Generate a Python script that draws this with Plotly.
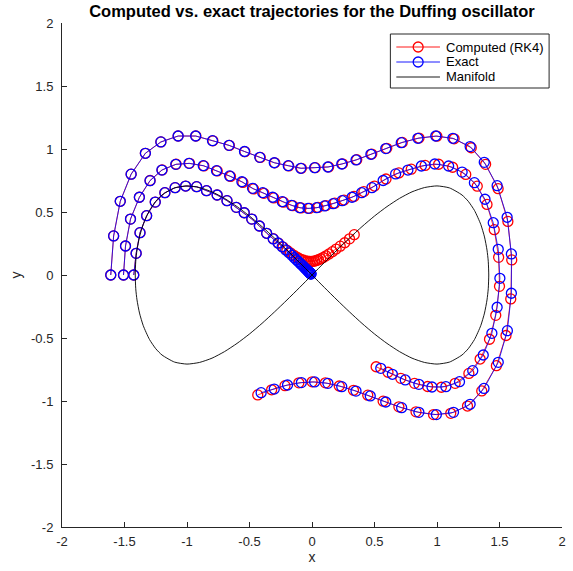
import plotly.graph_objects as go

# ---------------- data ----------------
# Exact trajectories (blue)
exact1_x = [-1.61, -1.587, -1.534, -1.447, -1.333, -1.209, -1.071, -0.931, -0.796, -0.664, -0.54, -0.418, -0.302, -0.19, -0.09, 0.021, 0.127, 0.238, 0.352, 0.471, 0.59, 0.714, 0.847, 0.99, 1.127, 1.265, 1.378, 1.481, 1.561, 1.595, 1.595, 1.563, 1.49, 1.376, 1.265, 1.132, 0.995, 0.855, 0.717, 0.59, 0.466, 0.352, 0.238, 0.127, 0.021, -0.085, -0.196, -0.302, -0.407]
exact1_y = [0.0, 0.31, 0.585, 0.8, 0.966, 1.056, 1.103, 1.103, 1.066, 1.029, 0.98, 0.934, 0.891, 0.868, 0.847, 0.852, 0.857, 0.881, 0.913, 0.958, 1.003, 1.05, 1.085, 1.103, 1.085, 1.019, 0.894, 0.709, 0.458, 0.167, -0.145, -0.442, -0.693, -0.9, -1.026, -1.09, -1.108, -1.09, -1.053, -1.008, -0.96, -0.921, -0.886, -0.86, -0.849, -0.854, -0.873, -0.905, -0.934]

exact2_x = [-1.508, -1.492, -1.452, -1.381, -1.296, -1.201, -1.09, -0.984, -0.87, -0.764, -0.659, -0.561, -0.476, -0.394, -0.315, -0.238, -0.164, -0.098, -0.032, 0.037, 0.1, 0.169, 0.241, 0.32, 0.397, 0.479, 0.569, 0.669, 0.767, 0.875, 0.982, 1.093, 1.201, 1.299, 1.384, 1.45, 1.49, 1.503, 1.481, 1.439, 1.37, 1.286, 1.18, 1.071, 0.96, 0.855, 0.746, 0.643, 0.55]
exact2_y = [0.0, 0.23, 0.444, 0.617, 0.749, 0.833, 0.878, 0.886, 0.868, 0.828, 0.786, 0.74, 0.688, 0.653, 0.617, 0.582, 0.553, 0.534, 0.529, 0.534, 0.548, 0.566, 0.59, 0.617, 0.653, 0.693, 0.75, 0.802, 0.833, 0.865, 0.881, 0.865, 0.817, 0.733, 0.601, 0.415, 0.204, -0.026, -0.256, -0.463, -0.635, -0.759, -0.847, -0.886, -0.889, -0.868, -0.833, -0.788, -0.741]

exact3_x = [-1.426, -1.407, -1.376, -1.323, -1.254, -1.177, -1.095, -1.011, -0.923, -0.844, -0.759, -0.68, -0.606, -0.542, -0.482, -0.421, -0.363, -0.31, -0.272, -0.239, -0.21, -0.184, -0.162, -0.142, -0.125, -0.11, -0.096, -0.085, -0.074, -0.065, -0.057, -0.05, -0.044, -0.039, -0.034, -0.03, -0.026, -0.023, -0.02, -0.018, -0.016, -0.014, -0.012, -0.01, -0.009, -0.008]
exact3_y = [0.0, 0.172, 0.336, 0.471, 0.579, 0.653, 0.693, 0.706, 0.701, 0.669, 0.635, 0.59, 0.537, 0.494, 0.444, 0.389, 0.331, 0.286, 0.254, 0.225, 0.199, 0.176, 0.156, 0.137, 0.121, 0.107, 0.094, 0.083, 0.073, 0.064, 0.056, 0.049, 0.043, 0.038, 0.033, 0.029, 0.026, 0.023, 0.02, 0.018, 0.016, 0.014, 0.012, 0.01, 0.009, 0.008]

# Computed trajectories (red, RK4)
rk1_x = [-1.61, -1.587, -1.534, -1.447, -1.333, -1.209, -1.071, -0.929, -0.793, -0.661, -0.537, -0.414, -0.298, -0.186, -0.085, 0.026, 0.133, 0.244, 0.358, 0.478, 0.598, 0.722, 0.856, 0.999, 1.137, 1.274, 1.389, 1.489, 1.567, 1.598, 1.59, 1.552, 1.475, 1.358, 1.244, 1.11, 0.972, 0.832, 0.695, 0.569, 0.446, 0.332, 0.218, 0.107, 0.001, -0.105, -0.216, -0.323, -0.434]
rk1_y = [0.0, 0.31, 0.585, 0.8, 0.966, 1.056, 1.103, 1.103, 1.065, 1.028, 0.979, 0.933, 0.89, 0.866, 0.847, 0.852, 0.858, 0.882, 0.915, 0.96, 1.005, 1.052, 1.087, 1.102, 1.081, 1.01, 0.878, 0.685, 0.425, 0.12, -0.19, -0.48, -0.72, -0.92, -1.04, -1.098, -1.108, -1.086, -1.046, -1.001, -0.954, -0.915, -0.881, -0.856, -0.848, -0.856, -0.878, -0.911, -0.952]

rk2_x = [-1.508, -1.492, -1.452, -1.381, -1.295, -1.199, -1.087, -0.98, -0.865, -0.758, -0.652, -0.553, -0.468, -0.385, -0.306, -0.228, -0.154, -0.088, -0.021, 0.048, 0.112, 0.182, 0.256, 0.336, 0.415, 0.5, 0.592, 0.695, 0.794, 0.905, 1.013, 1.125, 1.23, 1.322, 1.4, 1.458, 1.493, 1.5, 1.47, 1.42, 1.345, 1.255, 1.145, 1.035, 0.925, 0.82, 0.71, 0.608, 0.513]
rk2_y = [0.0, 0.23, 0.444, 0.617, 0.75, 0.834, 0.879, 0.886, 0.866, 0.826, 0.782, 0.735, 0.683, 0.648, 0.612, 0.578, 0.55, 0.532, 0.528, 0.536, 0.551, 0.57, 0.595, 0.624, 0.662, 0.706, 0.762, 0.81, 0.84, 0.87, 0.879, 0.855, 0.798, 0.705, 0.56, 0.36, 0.14, -0.09, -0.32, -0.51, -0.667, -0.781, -0.86, -0.891, -0.885, -0.86, -0.82, -0.772, -0.728]

rk3_x = [-1.426, -1.407, -1.376, -1.323, -1.254, -1.177, -1.095, -1.011, -0.923, -0.844, -0.759, -0.68, -0.606, -0.542, -0.482, -0.421, -0.363, -0.31, -0.268, -0.232, -0.2, -0.172, -0.148, -0.126, -0.106, -0.087, -0.069, -0.052, -0.036, -0.021, -0.007, 0.007, 0.021, 0.036, 0.052, 0.07, 0.09, 0.112, 0.136, 0.163, 0.193, 0.226, 0.262, 0.3, 0.338]
rk3_y = [0.0, 0.172, 0.336, 0.471, 0.579, 0.653, 0.693, 0.706, 0.701, 0.669, 0.635, 0.59, 0.537, 0.494, 0.444, 0.389, 0.331, 0.288, 0.252, 0.222, 0.196, 0.175, 0.158, 0.144, 0.133, 0.124, 0.117, 0.112, 0.109, 0.107, 0.107, 0.108, 0.111, 0.115, 0.121, 0.129, 0.139, 0.152, 0.167, 0.185, 0.206, 0.229, 0.256, 0.287, 0.32]

# Manifold (figure-eight separatrix)
man_x = [0.0, 0.1, 0.2, 0.3, 0.4, 0.5, 0.6, 0.7, 0.8, 0.9, 1.0, 1.1, 1.2, 1.25, 1.3, 1.35, 1.38, 1.4, 1.41, 1.414,
         1.41, 1.4, 1.38, 1.35, 1.3, 1.25, 1.2, 1.1, 1.0, 0.9, 0.8, 0.7, 0.6, 0.5, 0.4, 0.3, 0.2, 0.1, 0.0,
         -0.1, -0.2, -0.3, -0.4, -0.5, -0.6, -0.7, -0.8, -0.9, -1.0, -1.1, -1.2, -1.25, -1.3, -1.35, -1.38, -1.4, -1.41, -1.414,
         -1.41, -1.4, -1.38, -1.35, -1.3, -1.25, -1.2, -1.1, -1.0, -0.9, -0.8, -0.7, -0.6, -0.5, -0.4, -0.3, -0.2, -0.1, 0.0]
man_y = [0.0, 0.1, 0.198, 0.293, 0.384, 0.468, 0.543, 0.608, 0.66, 0.694, 0.707, 0.691, 0.635, 0.585, 0.512, 0.402, 0.302, 0.198, 0.109, 0.0,
         -0.109, -0.198, -0.302, -0.402, -0.512, -0.585, -0.635, -0.691, -0.707, -0.694, -0.66, -0.608, -0.543, -0.468, -0.384, -0.293, -0.198, -0.1, 0.0,
         0.1, 0.198, 0.293, 0.384, 0.468, 0.543, 0.608, 0.66, 0.694, 0.707, 0.691, 0.635, 0.585, 0.512, 0.402, 0.302, 0.198, 0.109, 0.0,
         -0.109, -0.198, -0.302, -0.402, -0.512, -0.585, -0.635, -0.691, -0.707, -0.694, -0.66, -0.608, -0.543, -0.468, -0.384, -0.293, -0.198, -0.1, 0.0]

tick_vals = [-2, -1.5, -1, -0.5, 0, 0.5, 1, 1.5, 2]
tick_text = ["-2", "-1.5", "-1", "-0.5", "0", "0.5", "1", "1.5", "2"]

title_text = "Computed vs. exact trajectories for the Duffing oscillator"
series_names = ["Computed (RK4)", "Exact", "Manifold"]
series_colors = ["#ff0000", "#0000ff", "#000000"]

# ---------------- figure ----------------
def join(*arrs):
    out = []
    for i, a in enumerate(arrs):
        if i:
            out.append(None)
        out.extend(a)
    return out

FONT = "Liberation Sans, Arial, Helvetica, sans-serif"
AX = "#262626"
W, H = 573, 571
ML, MR, MT, MB = 62, 7, 23, 44
PW, PH = W - ML - MR, H - MT - MB

def px(xp):
    return (xp - ML) / PW

def py(yp):
    return 1 - (yp - MT) / PH

fig = go.Figure()
fig.add_trace(go.Scatter(
    x=join(rk1_x, rk2_x, rk3_x), y=join(rk1_y, rk2_y, rk3_y),
    mode="lines+markers", name=series_names[0], connectgaps=False, showlegend=False,
    line=dict(color=series_colors[0], width=0.8),
    marker=dict(symbol="circle-open", size=10, color=series_colors[0], line=dict(width=1.3, color=series_colors[0])),
))
fig.add_trace(go.Scatter(
    x=join(exact1_x, exact2_x, exact3_x), y=join(exact1_y, exact2_y, exact3_y),
    mode="lines+markers", name=series_names[1], connectgaps=False, showlegend=False,
    line=dict(color=series_colors[1], width=0.8),
    marker=dict(symbol="circle-open", size=10, color=series_colors[1], line=dict(width=1.3, color=series_colors[1])),
))
fig.add_trace(go.Scatter(
    x=man_x, y=man_y, mode="lines", name=series_names[2], showlegend=False,
    line=dict(color=series_colors[2], width=0.9, shape="spline", smoothing=0.6),
))

axis_common = dict(
    range=[-2, 2], tickvals=tick_vals, ticktext=tick_text,
    ticks="inside", ticklen=5, tickwidth=1, tickcolor=AX,
    showline=True, linecolor=AX, linewidth=1, mirror=False,
    showgrid=False, zeroline=False,
    tickfont=dict(family=FONT, size=13, color=AX),
)
fig.update_xaxes(**axis_common, ticklabelstandoff=2,
                 title=dict(text="x", font=dict(family=FONT, size=14, color=AX), standoff=4))
fig.update_yaxes(**axis_common, ticklabelstandoff=5,
                 title=dict(text="y", font=dict(family=FONT, size=14, color=AX), standoff=6))

# ---- legend drawn by hand (Matlab style, compact rows) ----
shapes = [dict(type="rect", xref="paper", yref="paper", x0=px(393), x1=px(553), y0=py(88), y1=py(34),
               line=dict(color=AX, width=1), fillcolor="white", layer="above")]
annotations = []
rows = [47, 62, 77]
for i, (name, col) in enumerate(zip(series_names, series_colors)):
    yy = rows[i]
    shapes.append(dict(type="line", xref="paper", yref="paper", x0=px(399), x1=px(443), y0=py(yy), y1=py(yy),
                       line=dict(color=col, width=0.9), layer="above"))
    if i < 2:
        shapes.append(dict(type="circle", xref="paper", yref="paper", x0=px(416), x1=px(426),
                           y0=py(yy + 5), y1=py(yy - 5), line=dict(color=col, width=1.3), layer="above"))
    annotations.append(dict(text=name, xref="paper", yref="paper", x=px(447), y=py(yy), xanchor="left",
                            yanchor="middle", showarrow=False, font=dict(family=FONT, size=13, color="black")))

fig.update_layout(
    width=W, height=H,
    margin=dict(l=ML, r=MR, t=MT, b=MB),
    paper_bgcolor="white", plot_bgcolor="white",
    title=dict(text="<b>" + title_text + "</b>", x=0.5, xref="paper", y=1 - 11 / H, yref="container",
               yanchor="middle", xanchor="center", font=dict(family=FONT, size=16.5, color="black")),
    shapes=shapes, annotations=annotations,
    showlegend=False,
)

fig.write_html("out.html")
